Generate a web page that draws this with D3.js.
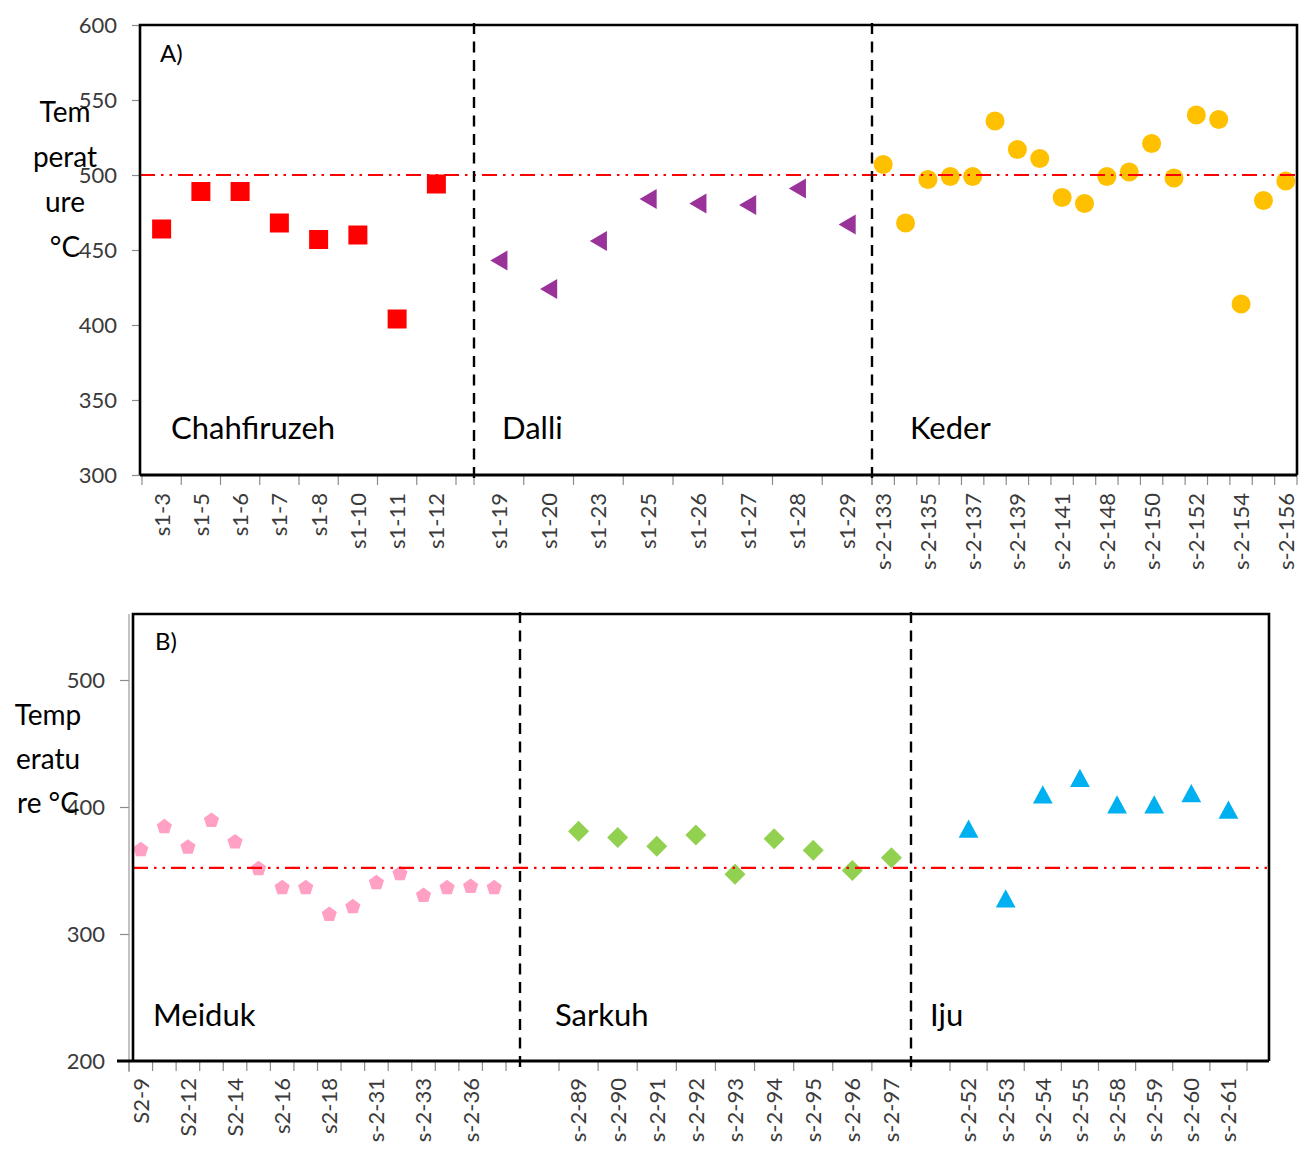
<!DOCTYPE html>
<html>
<head>
<meta charset="utf-8">
<script src="https://cdn.jsdelivr.net/npm/d3@7"></script>
<style>
  body { margin: 0; background: #fff; }
  svg { display: block; font-family: Lato, "Open Sans", sans-serif; }
</style>
</head>
<body>
<svg id="chart" width="1299" height="1149"></svg>
<script>
// ---- Panel A: homogenization temperatures (°C) ----
const chahfiruzehSamples = ['s1-3','s1-5','s1-6','s1-7','s1-8','s1-10','s1-11','s1-12'];
const chahfiruzehTemps   = [464, 489, 489, 468, 457, 460, 404, 494];

const dalliSamples = ['s1-19','s1-20','s1-23','s1-25','s1-26','s1-27','s1-28','s1-29'];
const dalliTemps   = [443, 424, 456, 484, 481, 480, 491, 467];

const kederSamples = ['s-2-133','s-2-134','s-2-135','s-2-136','s-2-137','s-2-138','s-2-139','s-2-140',
  's-2-141','s-2-147','s-2-148','s-2-149','s-2-150','s-2-151','s-2-152','s-2-153','s-2-154','s-2-155','s-2-156'];
const kederTemps = [507, 468, 497, 499, 499, 536, 517, 511, 485, 481, 499, 502, 521, 498, 540, 537, 414, 483, 496];
const kederTickLabels = ['s-2-133','s-2-135','s-2-137','s-2-139','s-2-141','s-2-148','s-2-150','s-2-152','s-2-154','s-2-156'];

const yTicksA = [300, 350, 400, 450, 500, 550, 600];
const refTempA = 500;

// ---- Panel B ----
const meidukSamples = ['S2-9','S2-10','S2-12','S2-13','S2-14','S2-15','s2-16','s2-17',
  's2-18','s2-19','s-2-31','s-2-32','s-2-33','s-2-34','s-2-36','s-2-37'];
const meidukTemps = [367, 385, 369, 390, 373, 352, 337, 337, 316, 322, 341, 348, 331, 337, 338, 337];
const meidukTickLabels = ['S2-9','S2-12','S2-14','s2-16','s2-18','s-2-31','s-2-33','s-2-36'];

const sarkuhSamples = ['s-2-89','s-2-90','s-2-91','s-2-92','s-2-93','s-2-94','s-2-95','s-2-96','s-2-97'];
const sarkuhTemps   = [381, 376, 369, 378, 347, 375, 366, 350, 360];

const ijuSamples = ['s-2-52','s-2-53','s-2-54','s-2-55','s-2-58','s-2-59','s-2-60','s-2-61'];
const ijuTemps   = [383, 328, 410, 423, 402, 402, 411, 398];

const yTicksB = [200, 300, 400, 500];
const refTempB = 352;

// ---------------------------------------------------------------
const svg = d3.select('#chart');
const TICK_GRAY = '#8c8c8c';
const LABEL_COLOR = '#3a3a3a';

// marker shapes, centred on (0,0)
const shapes = {
  square: s => `M${-s/2},${-s/2}H${s/2}V${s/2}H${-s/2}Z`,
  triLeft: s => `M${-s*0.45},0L${s*0.45},${-s*0.52}L${s*0.45},${s*0.52}Z`,
  triUp: s => `M0,${-s*0.48}L${s*0.52},${s*0.48}L${-s*0.52},${s*0.48}Z`,
  diamond: s => `M0,${-s/2}L${s/2},0L0,${s/2}L${-s/2},0Z`,
  circle: s => d3.symbol(d3.symbolCircle, Math.PI * (s/2) * (s/2))(),
  pentagon: s => {
    const r = s / 2, pts = [];
    for (let i = 0; i < 5; i++) {
      const a = -Math.PI / 2 + i * 2 * Math.PI / 5;
      pts.push([r * Math.cos(a), r * Math.sin(a) + r * 0.1]);
    }
    return 'M' + pts.map(p => p.join(',')).join('L') + 'Z';
  }
};

function drawPanel(cfg) {
  const g = svg.append('g');
  const y = d3.scaleLinear().domain(cfg.yDomain).range(cfg.yRange);

  // gray value axis with outside ticks
  const yAxis = g.append('g')
    .attr('transform', `translate(${cfg.yAxisX},0)`)
    .call(d3.axisLeft(y).tickValues(cfg.yTicks).tickSize(cfg.yTickSize).tickPadding(cfg.yPad).tickSizeOuter(0));
  yAxis.select('.domain').remove();
  yAxis.selectAll('.tick line').attr('stroke', TICK_GRAY).attr('stroke-width', 1.2);
  yAxis.selectAll('.tick text').attr('font-size', 22).attr('fill', LABEL_COLOR)
    .attr('font-family', 'Lato, sans-serif');
  if (cfg.yAxisLine) {
    g.append('line').attr('x1', cfg.yAxisX).attr('x2', cfg.yAxisX)
      .attr('y1', cfg.frame.top).attr('y2', cfg.yAxisLine)
      .attr('stroke', '#9a9a9a').attr('stroke-width', 1.2);
  }

  // category groups, each with its own band scale
  cfg.groups.forEach(grp => {
    const x = d3.scaleBand().domain(grp.samples).range(grp.range).padding(0);

    // tick marks on band boundaries
    const bounds = grp.samples.map(s => x(s)).concat([x.range()[1]]);
    g.append('g').selectAll('line').data(bounds).join('line')
      .attr('x1', d => d).attr('x2', d => d)
      .attr('y1', cfg.frame.bottom).attr('y2', cfg.frame.bottom + 10)
      .attr('stroke', TICK_GRAY).attr('stroke-width', 1.2);

    // rotated sample labels
    const ax = g.append('g')
      .attr('transform', `translate(0,${cfg.frame.bottom})`)
      .call(d3.axisBottom(x).tickSize(0)
        .tickFormat(d => (grp.tickLabels ? (grp.tickLabels.includes(d) ? d : '') : d)));
    ax.select('.domain').remove();
    ax.selectAll('.tick text')
      .attr('transform', 'rotate(-90)')
      .attr('text-anchor', 'end')
      .attr('x', -cfg.xLabelOffset).attr('y', 0).attr('dy', '0.36em')
      .attr('font-size', 22).attr('fill', LABEL_COLOR)
      .attr('font-family', 'Lato, sans-serif');

    // markers
    g.append('g').selectAll('path').data(grp.samples).join('path')
      .attr('transform', (d, i) => `translate(${x(d) + x.bandwidth() / 2},${y(grp.temps[i])})`)
      .attr('d', shapes[grp.shape](grp.size))
      .attr('fill', grp.color);

    // group name
    g.append('text').attr('x', grp.nameX).attr('y', cfg.nameY)
      .attr('font-size', 31).attr('fill', '#000').text(grp.name);
  });

  // reference temperature (dash-dot-dot)
  g.append('line')
    .attr('x1', cfg.frame.left).attr('x2', cfg.frame.right)
    .attr('y1', y(cfg.refTemp)).attr('y2', y(cfg.refTemp))
    .attr('stroke', '#ff0000').attr('stroke-width', 2.2)
    .attr('stroke-dasharray', '15,6,2.5,6,2.5,6');

  // frame
  const f = cfg.frame;
  g.append('path')
    .attr('d', `M${f.left},${f.bottom}V${f.top}H${f.right}V${f.bottom}`)
    .attr('fill', 'none').attr('stroke', '#000').attr('stroke-width', 2.6);
  g.append('line').attr('x1', cfg.bottomStart).attr('x2', f.right)
    .attr('y1', f.bottom).attr('y2', f.bottom)
    .attr('stroke', '#000').attr('stroke-width', 3);

  // dashed boundaries between districts
  cfg.dividers.forEach(dv => {
    g.append('line').attr('x1', dv.x).attr('x2', dv.x)
      .attr('y1', dv.y1).attr('y2', dv.y2)
      .attr('stroke', '#000').attr('stroke-width', 2.4)
      .attr('stroke-dasharray', '11,7.5');
  });

  // panel letter
  g.append('text').attr('x', cfg.letter.x).attr('y', cfg.letter.y)
    .attr('font-size', 24).attr('fill', '#000').text(cfg.letter.text);

  // stacked axis title
  const t = g.append('text').attr('text-anchor', 'middle')
    .attr('font-size', 28).attr('fill', '#000');
  cfg.title.lines.forEach((ln, i) => {
    t.append('tspan').attr('x', cfg.title.x).attr('y', cfg.title.y0 + i * cfg.title.step).text(ln);
  });
}

drawPanel({
  yDomain: [300, 600], yRange: [475, 25], yTicks: yTicksA,
  yAxisX: 140, yTickSize: 8, yPad: 15, yAxisLine: null,
  frame: { left: 140, top: 25, right: 1297, bottom: 475 },
  bottomStart: 140,
  xLabelOffset: 18, nameY: 439, refTemp: refTempA,
  groups: [
    { name: 'Chahfiruzeh', nameX: 171, samples: chahfiruzehSamples, temps: chahfiruzehTemps,
      range: [142, 456], shape: 'square', size: 19, color: '#ff0000' },
    { name: 'Dalli', nameX: 502, samples: dalliSamples, temps: dalliTemps,
      range: [474, 872], shape: 'triLeft', size: 19, color: '#993399' },
    { name: 'Keder', nameX: 910, samples: kederSamples, temps: kederTemps, tickLabels: kederTickLabels,
      range: [872, 1297], shape: 'circle', size: 19, color: '#ffc000' }
  ],
  dividers: [ { x: 474, y1: 23, y2: 484 }, { x: 872, y1: 23, y2: 484 } ],
  letter: { x: 160, y: 62, text: 'A)' },
  title: { x: 65, y0: 122, step: 45, lines: ['Tem', 'perat', 'ure', '°C'] }
});

drawPanel({
  yDomain: [200, 500], yRange: [1061, 680], yTicks: yTicksB,
  yAxisX: 129, yTickSize: 9, yPad: 15, yAxisLine: 1072,
  frame: { left: 133, top: 614, right: 1269, bottom: 1061 },
  bottomStart: 117,
  xLabelOffset: 17, nameY: 1026, refTemp: refTempB,
  groups: [
    { name: 'Meiduk', nameX: 153, samples: meidukSamples, temps: meidukTemps, tickLabels: meidukTickLabels,
      range: [129, 506], shape: 'pentagon', size: 16, color: '#ffa0c4' },
    { name: 'Sarkuh', nameX: 555, samples: sarkuhSamples, temps: sarkuhTemps,
      range: [559, 911], shape: 'diamond', size: 21, color: '#92d050' },
    { name: 'Iju', nameX: 930, samples: ijuSamples, temps: ijuTemps,
      range: [950, 1247], shape: 'triUp', size: 19, color: '#00b0f0' }
  ],
  dividers: [ { x: 520, y1: 612, y2: 1068 }, { x: 911, y1: 612, y2: 1068 } ],
  letter: { x: 155, y: 650, text: 'B)' },
  title: { x: 48, y0: 725, step: 44, lines: ['Temp', 'eratu', 're °C'] }
});
</script>
</body>
</html>
